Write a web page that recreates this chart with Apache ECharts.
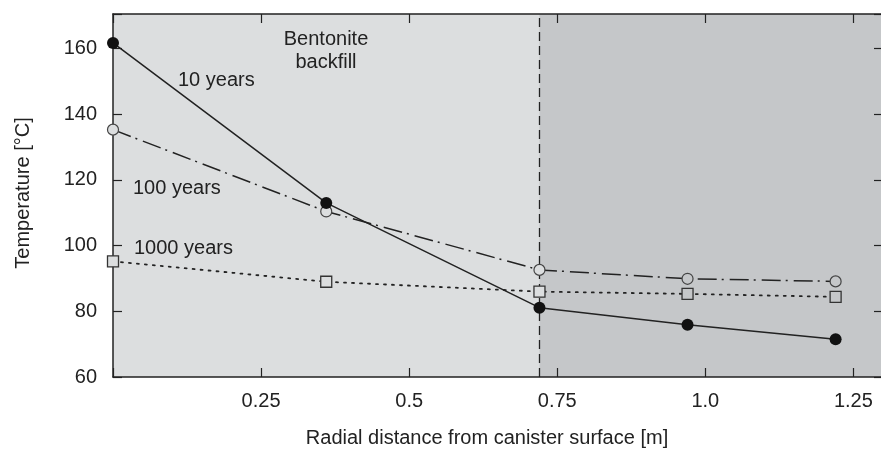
<!DOCTYPE html>
<html><head><meta charset="utf-8">
<script src="https://cdn.jsdelivr.net/npm/echarts@6/dist/echarts.min.js"></script>
<style>html,body{margin:0;padding:0;background:#fff}#c{width:881px;height:451px}</style>
</head><body><div id="c"></div><script>
// Data
const distances = [0, 0.36, 0.72, 0.97, 1.22];
const years10 = [161.7, 113.0, 81.1, 75.9, 71.5];
const years100 = [135.3, 110.4, 92.6, 89.9, 89.1];
const years1000 = [95.2, 89.0, 86.0, 85.3, 84.4];
const boundary = 0.72;
const xTickValues = [0.25, 0.5, 0.75, 1.0, 1.25];
const xTickLabels = ['0.25', '0.5', '0.75', '1.0', '1.25'];
const yTickValues = [60, 80, 100, 120, 140, 160];

const FONT = 'Liberation Sans, Arial, sans-serif';
const INK = '#222';
const LIGHT = '#dcdedf';
const DARK = '#c5c7c9';

function pairs(ys) { return distances.map((x, i) => [x, ys[i]]); }
function fillByRegion(p) { return p.value[0] > boundary + 0.05 ? DARK : LIGHT; }
function axisLine() { return {show: true, onZero: false, lineStyle: {color: INK, width: 1.5}}; }
function axisTick() { return {show: true, inside: true, length: 9, lineStyle: {color: INK, width: 1.2}}; }

const chart = echarts.init(document.getElementById('c'), null, {renderer: 'canvas'});

chart.setOption({
  animation: false,
  backgroundColor: '#fff',
  grid: {left: 113, top: 14, width: 770, height: 363, show: true, backgroundColor: LIGHT, borderWidth: 0,
         containLabel: false, outerBoundsMode: 'none'},
  xAxis: [
    {type: 'value', min: 0, max: 1.3, interval: 0.25, position: 'bottom', z: 2,
     axisLine: axisLine(), axisTick: axisTick(), splitLine: {show: false},
     axisLabel: {margin: 14, color: INK, fontSize: 20, fontFamily: FONT,
       formatter: v => { const i = xTickValues.findIndex(t => Math.abs(t - v) < 1e-6); return i >= 0 ? xTickLabels[i] : ''; }}},
    {type: 'value', min: 0, max: 1.3, interval: 0.25, position: 'top', z: 2,
     axisLine: axisLine(), axisTick: axisTick(), splitLine: {show: false}, axisLabel: {show: false}}
  ],
  yAxis: [
    {type: 'value', min: 60, max: 170.5, interval: 20, position: 'left', z: 2,
     axisLine: axisLine(), axisTick: axisTick(), splitLine: {show: false},
     axisLabel: {margin: 16, color: INK, fontSize: 20, fontFamily: FONT,
       formatter: v => yTickValues.includes(v) ? String(v) : ''}},
    {type: 'value', min: 60, max: 170.5, interval: 20, position: 'right', z: 2,
     axisLine: axisLine(), axisTick: axisTick(), splitLine: {show: false}, axisLabel: {show: false}}
  ],
  series: [
    {
      name: '1000 years', type: 'line', data: pairs(years1000),
      symbol: 'rect', symbolSize: 11,
      lineStyle: {color: INK, width: 1.8, type: [2, 6], cap: 'round'},
      itemStyle: {color: fillByRegion, borderColor: '#333', borderWidth: 1.3},
      z: 3,
      markArea: {silent: true, z: 1, itemStyle: {color: DARK},
        data: [[{xAxis: boundary}, {xAxis: 1.3}]]},
      markLine: {silent: true, z: 2, symbol: 'none', label: {show: false},
        lineStyle: {color: INK, width: 1.3, type: [9, 5]},
        data: [{xAxis: boundary}]}
    },
    {
      name: '100 years', type: 'line', data: pairs(years100),
      symbol: 'circle', symbolSize: 11,
      lineStyle: {color: INK, width: 1.5, type: [19, 5, 2, 6]},
      itemStyle: {color: fillByRegion, borderColor: '#444', borderWidth: 1.2},
      z: 4
    },
    {
      name: '10 years', type: 'line', data: pairs(years10),
      symbol: 'circle', symbolSize: 12,
      lineStyle: {color: INK, width: 1.5},
      itemStyle: {color: '#111', borderColor: '#111', borderWidth: 0},
      z: 5
    }
  ],
  graphic: [
    {type: 'text', x: 178, y: 80, style: {text: '10 years', font: '20px ' + FONT, fill: INK, textVerticalAlign: 'middle'}},
    {type: 'text', x: 133, y: 188, style: {text: '100 years', font: '20px ' + FONT, fill: INK, textVerticalAlign: 'middle'}},
    {type: 'text', x: 134, y: 248, style: {text: '1000 years', font: '20px ' + FONT, fill: INK, textVerticalAlign: 'middle'}},
    {type: 'text', x: 326, y: 39, style: {text: 'Bentonite', font: '20px ' + FONT, fill: INK, textAlign: 'center', textVerticalAlign: 'middle'}},
    {type: 'text', x: 326, y: 62, style: {text: 'backfill', font: '20px ' + FONT, fill: INK, textAlign: 'center', textVerticalAlign: 'middle'}},
    {type: 'text', x: 715, y: 39, style: {text: 'Opalinus', font: '20px ' + FONT, fill: INK, textAlign: 'center', textVerticalAlign: 'middle'}},
    {type: 'text', x: 715, y: 62, style: {text: 'Clay', font: '20px ' + FONT, fill: INK, textAlign: 'center', textVerticalAlign: 'middle'}},
    {type: 'text', x: 487, y: 438, style: {text: 'Radial distance from canister surface [m]', font: '20px ' + FONT, fill: INK, textAlign: 'center', textVerticalAlign: 'middle'}},
    {type: 'text', x: 23.5, y: 193, rotation: Math.PI / 2, style: {text: 'Temperature [°C]', font: '20px ' + FONT, fill: INK, textAlign: 'center', textVerticalAlign: 'middle'}}
  ]
});
</script></body></html>
